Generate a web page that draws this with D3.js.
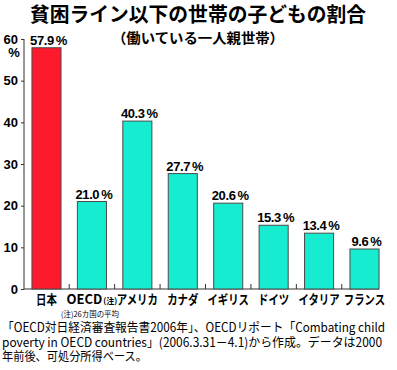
<!DOCTYPE html>
<html>
<head>
<meta charset="utf-8">
<script src="https://cdn.jsdelivr.net/npm/d3@7"></script>
<style>
  body { margin: 0; background: #fff; }
  svg { display: block; }
</style>
</head>
<body>
<div id="chart"></div>
<script>
// data
const countries = ["日本", "OECD", "アメリカ", "カナダ", "イギリス", "ドイツ", "イタリア", "フランス"]
const rates = [57.9, 21.0, 40.3, 27.7, 20.6, 15.3, 13.4, 9.6]
const yTicks = [0, 10, 20, 30, 40, 50, 60]
const title = "貧困ライン以下の世帯の子どもの割合"
const subtitle = "（働いている一人親世帯）"
const oecdNote = "(注)26カ国の平均"
const sourceLines = [
  "「OECD対日経済審査報告書2006年」、OECDリポート「Combating child",
  "poverty in OECD countries」(2006.3.31－4.1)から作成。データは2000",
  "年前後、可処分所得ベース。"
]

const W = 397, H = 370
const jp = "'Noto Sans CJK JP', 'Noto Sans', sans-serif"
const num = "'Liberation Sans', Arial, sans-serif"

const svg = d3.select("#chart").append("svg")
    .attr("width", W)
    .attr("height", H)

const x = d3.scaleBand()
    .domain(countries)
    .range([24, 387])
    .paddingInner(0.36)
    .paddingOuter(0.175)

const y = d3.scaleLinear()
    .domain([0, 60])
    .range([289, 39])

// title
svg.append("text")
    .attr("x", 198).attr("y", 22)
    .attr("text-anchor", "middle")
    .attr("font-family", jp).attr("font-weight", "bold")
    .attr("font-size", 20)
    .attr("textLength", 336).attr("lengthAdjust", "spacingAndGlyphs")
    .text(title)

svg.append("text")
    .attr("x", 198).attr("y", 43)
    .attr("text-anchor", "middle")
    .attr("font-family", jp).attr("font-weight", "bold")
    .attr("font-size", 14)
    .attr("textLength", 172).attr("lengthAdjust", "spacingAndGlyphs")
    .text(subtitle)

// y axis
const yAxis = svg.append("g")
    .attr("transform", "translate(24,0)")
    .call(d3.axisLeft(y).tickValues(yTicks).tickSize(3).tickPadding(3))
yAxis.select(".domain").attr("d", `M0,${y(60)}V${y(0)}`).attr("stroke", "#333")
yAxis.selectAll(".tick line").attr("stroke", "#333")
yAxis.selectAll(".tick text")
    .attr("font-family", num).attr("font-weight", "bold")
    .attr("font-size", 13).attr("fill", "#000")

svg.append("text")
    .attr("x", 14).attr("y", 57)
    .attr("text-anchor", "middle")
    .attr("font-family", num).attr("font-weight", "bold")
    .attr("font-size", 13)
    .text("%")

// baseline and separators
svg.append("line")
    .attr("x1", 24).attr("x2", x(countries[countries.length - 1]) + x.bandwidth())
    .attr("y1", y(0)).attr("y2", y(0))
    .attr("stroke", "#333")

const gap = x.step() * x.paddingInner() / 2
svg.append("g")
  .selectAll("line")
  .data(countries.slice(1))
  .join("line")
    .attr("x1", d => x(d) - gap).attr("x2", d => x(d) - gap)
    .attr("y1", y(0)).attr("y2", y(0) - 5)
    .attr("stroke", "#333")

// bars
svg.append("g")
  .selectAll("rect")
  .data(countries)
  .join("rect")
    .attr("x", d => x(d))
    .attr("y", (d, i) => y(rates[i]))
    .attr("width", x.bandwidth())
    .attr("height", (d, i) => y(0) - y(rates[i]))
    .attr("fill", (d, i) => i === 0 ? "#fc1a2c" : "#16ecd0")
    .attr("stroke", "#4a4a4a")
    .attr("stroke-width", 1)

// value labels
const vl = svg.append("g")
  .selectAll("text")
  .data(countries)
  .join("text")
    .attr("x", d => x(d) + x.bandwidth() / 2 + 2)
    .attr("y", (d, i) => y(rates[i]) - 3)
    .attr("text-anchor", "middle")
    .attr("font-family", num).attr("font-weight", "bold")
    .attr("font-size", 13)
    .attr("letter-spacing", -0.4)
vl.append("tspan").text((d, i) => rates[i].toFixed(1))
vl.append("tspan").attr("dx", 2).text("%")

// category labels
const cl = svg.append("g")
  .selectAll("text")
  .data(countries)
  .join("text")
    .attr("x", d => x(d) + x.bandwidth() / 2)
    .attr("y", 304)
    .attr("text-anchor", "middle")
    .attr("font-family", jp).attr("font-weight", "bold")
    .attr("font-size", 13)
cl.append("tspan").text(d => d)
cl.filter(d => d === "OECD").append("tspan")
    .attr("font-size", 8).attr("dx", 1).text("(注)")
cl.each(function (d) {
  if (d === "OECD") return
  const w = this.getComputedTextLength()
  d3.select(this).attr("textLength", w * 0.8).attr("lengthAdjust", "spacingAndGlyphs")
})

svg.append("text")
    .attr("x", 90).attr("y", 317)
    .attr("text-anchor", "middle")
    .attr("font-family", jp)
    .attr("font-size", 8)
    .attr("textLength", 58).attr("lengthAdjust", "spacingAndGlyphs")
    .text(oecdNote)

// source note
const srcWidths = [383, 380, 145]
svg.append("g")
  .selectAll("text")
  .data(sourceLines)
  .join("text")
    .attr("x", 2)
    .attr("y", (d, i) => 332 + i * 14.5)
    .attr("font-family", jp)
    .attr("font-size", 12.5)
    .attr("textLength", (d, i) => srcWidths[i])
    .attr("lengthAdjust", "spacingAndGlyphs")
    .text(d => d)
</script>
</body>
</html>
